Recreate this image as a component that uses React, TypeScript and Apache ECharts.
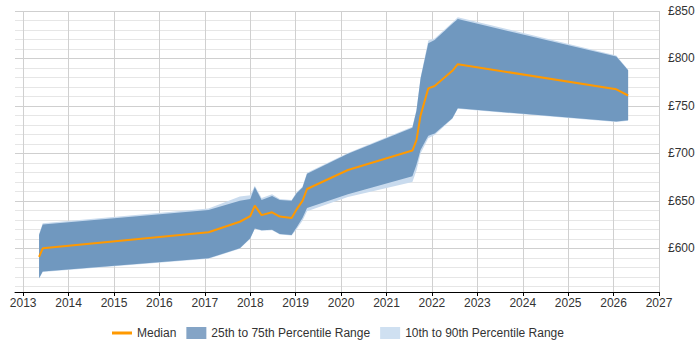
import React, { useEffect, useRef } from "react";
import * as echarts from "echarts";

// Sample dates as decimal years
const dates = [
  2013.35, 2013.43, 2017.08, 2017.77, 2018.0, 2018.1, 2018.25, 2018.48, 2018.65, 2018.91,
  2019.02, 2019.15, 2019.25, 2020.15, 2021.57, 2021.66, 2021.75, 2021.92, 2022.06, 2022.45,
  2022.57, 2026.06, 2026.32,
];
const median = [
  591, 600, 617, 628, 634, 645, 635, 638, 633.5, 632,
  641, 650, 662.5, 682.5, 703, 714, 740, 768.5, 771, 787,
  794, 767.5, 761,
];
const p25 = [
  568.5, 575.5, 589.5, 600, 610.5, 621, 619, 619.5, 615, 614,
  622, 632, 642.5, 657, 676, 688, 703.5, 718.5, 721, 737,
  747.5, 733.5, 735,
];
const p75 = [
  614, 625, 640.5, 650, 652, 664.5, 651, 655, 651, 650,
  658, 664, 678.5, 699.5, 727, 745, 779, 816, 819.5, 836.5,
  841.5, 802, 787.5,
];
const p10 = [
  568, 575, 589, 599.5, 610, 620.5, 618.5, 619, 614.5, 613.5,
  620, 629, 639, 654, 670, 682, 700, 716, 719.5, 736.5,
  747, 733, 734.5,
];
const p90 = [
  615, 626.5, 642, 654.5, 656, 666, 653, 657, 652, 651,
  659, 665, 679.5, 700.5, 728, 746, 780, 818.8, 821, 838,
  843.5, 803, 788,
];

const yearTicks = [2013, 2014, 2015, 2016, 2017, 2018, 2019, 2020, 2021, 2022, 2023, 2024, 2025, 2026, 2027];
const priceLabels = [600, 650, 700, 750, 800, 850];
const priceLines = [560, 570, 580, 590, 600, 610, 620, 630, 640, 650, 660, 670, 680, 690, 700, 710, 720, 730, 740, 750, 760, 770, 780, 790, 800, 810, 820, 830, 840, 850];

const MINOR = "#e6e6e6";
const MAJOR = "#cfcfcf";
const OUTER = "#c9dbee";
const INNER = "#7098bf";
const ORANGE = "#ff9900";

// Band polygon: upper edge left to right, then lower edge right to left
function bandSeries(name: string, hi: number[], lo: number[], color: string, legendColor: string, z: number) {
  return {
    name,
    type: "custom",
    z,
    silent: true,
    itemStyle: { color: legendColor },
    data: [[dates[0], lo[0]]],
    encode: { x: 0, y: 1 },
    renderItem: (_params: any, api: any) => {
      const pts: number[][] = [];
      for (let i = 0; i < dates.length; i++) pts.push(api.coord([dates[i], hi[i]]));
      for (let i = dates.length - 1; i >= 0; i--) pts.push(api.coord([dates[i], lo[i]]));
      return {
        type: "polygon",
        shape: { points: pts },
        style: { fill: color, stroke: "none" },
      };
    },
  };
}

export default function App() {
  const ref = useRef<HTMLDivElement>(null);
  useEffect(() => {
    if (!ref.current) return;
    const chart = echarts.init(ref.current, null, { renderer: "svg" });
    const font = "'Liberation Sans', Arial, sans-serif";
    chart.setOption({
      animation: false,
      textStyle: { fontFamily: font },
      grid: { left: 15, right: 41, top: 11, bottom: 58 },
      legend: {
        left: 107,
        top: 322,
        itemWidth: 20,
        itemHeight: 12,
        itemGap: 10,
        textStyle: { fontSize: 12, color: "#333", fontFamily: font },
        data: [
          { name: "Median", icon: "path://M0,0H20V3H0Z" },
          { name: "25th to 75th Percentile Range", icon: "rect" },
          { name: "10th to 90th Percentile Range", icon: "rect" },
        ],
      },
      xAxis: {
        type: "value",
        min: 2012.82,
        max: 2027,
        axisLine: { show: true, lineStyle: { color: "#000", width: 1 } },
        axisTick: { show: true, length: 4, customValues: yearTicks, lineStyle: { color: "#000" } },
        axisLabel: {
          customValues: yearTicks,
          color: "#333",
          fontSize: 12,
          margin: 5,
          formatter: (v: number) => String(Math.round(v)),
        },
        splitLine: { show: true, lineStyle: { color: "#d0d0d0", width: 1 } },
      },
      yAxis: {
        type: "value",
        position: "right",
        min: 554,
        max: 850,
        axisLine: { show: false },
        axisTick: { show: false, customValues: priceLines },
        axisLabel: {
          customValues: priceLabels,
          color: "#333",
          fontSize: 12,
          margin: 9,
          formatter: (v: number) => "£" + v,
        },
        splitLine: {
          show: true,
          lineStyle: { color: [MINOR, MINOR, MINOR, MINOR, MAJOR], width: 1 },
        },
      },
      series: [
        bandSeries("10th to 90th Percentile Range", p90, p10, OUTER, "#cfe0f1", 2),
        bandSeries("25th to 75th Percentile Range", p75, p25, INNER, "#84a4c6", 3),
        {
          name: "Median",
          type: "line",
          data: dates.map((d, i) => [d, median[i]]),
          symbol: "none",
          itemStyle: { color: ORANGE },
          lineStyle: { color: ORANGE, width: 2 },
          z: 5,
        },
      ],
    });
    return () => chart.dispose();
  }, []);
  return (
    <div
      ref={ref}
      style={{ position: "fixed", left: 0, top: 0, width: 700, height: 350, background: "#fff" }}
    />
  );
}
